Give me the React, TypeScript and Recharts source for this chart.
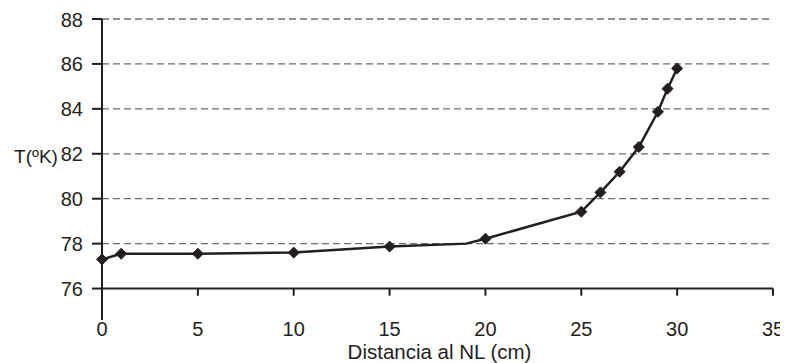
import React from 'react';
import { LineChart, Line, XAxis, YAxis, CartesianGrid, ReferenceLine } from 'recharts';

const distances = [0, 1, 5, 10, 15, 19, 20, 25, 26, 27, 28, 29, 29.5, 30];
const temperatures = [77.3, 77.55, 77.55, 77.6, 77.87, 78.0, 78.22, 79.42, 80.28, 81.2, 82.3, 83.87, 84.9, 85.8];
const markerShown = [true, true, true, true, true, false, true, true, true, true, true, true, true, true];
const xTicks = [0, 5, 10, 15, 20, 25, 30, 35];
const yTicks = [76, 78, 80, 82, 84, 86, 88];
const gridValues = [78, 80, 82, 84, 86, 88];
const xTitle = 'Distancia al NL (cm)';
const yTitle = 'T(ºK)';

const data = distances.map((d, i) => ({ d, t: temperatures[i], m: markerShown[i] }));

const FONT = '"Liberation Sans", Arial, sans-serif';
const INK = '#231f20';

const Diamond = (props: any) => {
  const { cx, cy, payload, index } = props;
  if (!payload || !payload.m) return <g key={`d${index}`} />;
  const s = 5.5;
  return (
    <polygon
      key={`d${index}`}
      points={`${cx},${cy - s} ${cx + s},${cy} ${cx},${cy + s} ${cx - s},${cy}`}
      fill={INK}
      stroke={INK}
      strokeWidth={1}
    />
  );
};

export default function App() {
  return (
    <LineChart
      width={780}
      height={355}
      data={data}
      margin={{ top: 11, right: 15, left: 0, bottom: 0 }}
    >
      <CartesianGrid
        horizontal
        vertical={false}
        horizontalValues={gridValues}
        stroke="#6d6d6d"
        strokeWidth={1.3}
        strokeDasharray="7 4"
      />
      <XAxis
        type="number"
        dataKey="d"
        domain={[0, 35]}
        ticks={xTicks}
        axisLine={false}
        tickLine={false}
        tickSize={0}
        tickMargin={2}
        height={43}
        tick={{ fill: INK, fontSize: 20, fontFamily: FONT }}
        label={{
          content: (p: any) => {
            const vb = p.viewBox;
            return (
              <text
                x={vb.x + vb.width / 2 + 2}
                y={vb.y + vb.height - 4}
                textAnchor="middle"
                fill={INK}
                fontSize={20.5}
                fontFamily={FONT}
              >
                {xTitle}
              </text>
            );
          },
        }}
      />
      <YAxis
        type="number"
        domain={[74.6, 88]}
        ticks={yTicks}
        allowDataOverflow
        width={94}
        axisLine={{ stroke: INK, strokeWidth: 2 }}
        tickLine={{ stroke: INK, strokeWidth: 2 }}
        tickSize={10}
        tickMargin={9}
        tick={{ fill: INK, fontSize: 20, fontFamily: FONT }}
        label={{
          content: () => (
            <text
              x={28}
              y={155}
              textAnchor="middle"
              fill={INK}
              fontSize={19}
              fontFamily={FONT}
            >
              {yTitle}
            </text>
          ),
        }}
      />
      <ReferenceLine y={76} stroke={INK} strokeWidth={2} />
      {xTicks.map((t) => (
        <ReferenceLine
          key={`xt${t}`}
          segment={[{ x: t, y: 76 }, { x: t, y: 75.68 }]}
          stroke={INK}
          strokeWidth={2}
        />
      ))}
      <Line
        type="linear"
        dataKey="t"
        stroke={INK}
        strokeWidth={2.5}
        dot={Diamond}
        activeDot={false}
        isAnimationActive={false}
      />
    </LineChart>
  );
}
